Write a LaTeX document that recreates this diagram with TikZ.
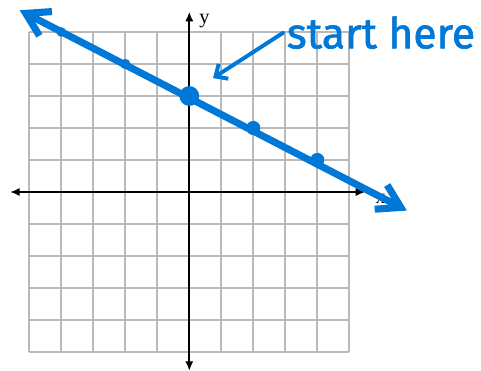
\documentclass[tikz,border=0pt]{standalone}
\usepackage{fontspec}
\setmainfont{Liberation Serif}
\newfontfamily\inkfont[FakeBold=1.5]{Fira Sans}
\usepackage{tikz}
\usetikzlibrary{arrows.meta,positioning,calc}
\definecolor{ink}{RGB}{0,120,215}
\definecolor{gridgray}{RGB}{185,185,185}

\begin{document}
\begin{tikzpicture}[x=1cm,y=1cm, gridline/.style={gridgray,line width=1.5pt}, axis/.style={black,line width=1.6pt,{Latex[length=3mm,width=2.6mm]}-{Latex[length=3mm,width=2.6mm]}}, inkline/.style={ink,line width=6.3pt,line cap=round}, dot/.style={circle,fill=ink,inner sep=0pt}, lbl/.style={font=\fontsize{18}{18}\selectfont,inner sep=0pt}]
  \useasboundingbox (-5.916,-5.594) rectangle (9.116,6);
  \draw[gridline] (-5,-5) grid (5,5);
  \coordinate (xl) at (-5.6,0);
  \coordinate (xr) at (5.5,0);
  \coordinate (yt) at (0,5.63);
  \coordinate (yb) at (0,-5.59);
  \draw[axis] (xl)--(xr);
  \draw[axis] (yb)--(yt);
  \node[lbl] (ylab) at (0.47,5.33) {y};
  \node[lbl] (xlab) at (5.98,-0.22) {x};
  % the line y = 3 - x/2
  \coordinate (la) at (-5.3,5.68);
  \coordinate (lb) at (6.8,-0.58);
  \draw[inkline,{Straight Barb[length=7mm,width=8.5mm]}-{Straight Barb[length=7mm,width=8.5mm]}] (la)--(lb);
  \node[dot,minimum size=3mm] (p1) at (-4,5) {};
  \node[dot,minimum size=3.2mm] (p2) at (-2,4) {};
  \node[dot,minimum size=6.2mm] (p3) at (0,3) {};
  \node[dot,minimum size=4.4mm] (p4) at (2,2) {};
  \node[dot,minimum size=4.4mm] (p5) at (4,1) {};
  \node[ink,inner sep=0pt,font=\inkfont\fontsize{38}{38}\selectfont] (note) at (5.99,4.98) {start here};
  \coordinate (tip) at (0.74,3.56);
  \draw[ink,line width=3.5pt,line cap=round,-{Straight Barb[length=3mm,width=5.5mm]}] ([xshift=-1mm]note.west)--(tip);
\end{tikzpicture}
\end{document}
